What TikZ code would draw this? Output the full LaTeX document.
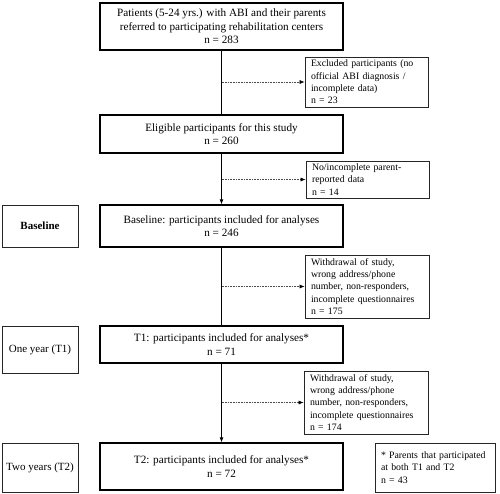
\documentclass[tikz,border=0pt]{standalone}
\usepackage{fontspec}
\setmainfont{Liberation Serif}
\usetikzlibrary{arrows.meta}
\begin{document}
\begin{tikzpicture}[x=1pt,y=-1pt,
  mainbox/.style={draw=black,line width=1.3pt,align=center,inner sep=0pt,
    font=\fontsize{11.2}{13.6}\selectfont},
  sidebox/.style={draw=black!85,line width=0.8pt,align=left,inner xsep=6pt,inner ysep=0pt,
    font=\fontsize{9.8}{12.4}\selectfont},
  labelbox/.style={draw=black!85,line width=0.8pt,align=center,inner sep=0pt,
    minimum width=76pt,font=\fontsize{11}{13.5}\selectfont},
  flow/.style={draw=black,line width=0.8pt},
  flowarrow/.style={flow,-{Latex[length=5pt,width=4pt]}},
  dotarrow/.style={draw=black!70,line width=0.6pt,densely dotted,
    -{Latex[length=5pt,width=4pt,fill=black,color=black]}}
]
\useasboundingbox (0,0) rectangle (500,493);

% main column
\node[mainbox,minimum width=243pt,minimum height=47pt] (top) at (221.5,26.5)
  {Patients (5-24 yrs.) with ABI and their parents\\referred to participating rehabilitation centers\\n = 283};
\node[mainbox,minimum width=243pt,minimum height=38pt] (elig) at (221.5,134)
  {Eligible participants for this study\\n = 260};
\node[mainbox,minimum width=243pt,minimum height=42pt] (base) at (221.5,226)
  {Baseline: participants included for analyses\\n = 246};
\node[mainbox,minimum width=243pt,minimum height=37pt] (tone) at (221.5,344.5)
  {T1: participants included for analyses*\\n = 71};
\node[mainbox,minimum width=243pt,minimum height=47pt] (ttwo) at (221.5,466.5)
  {T2: participants included for analyses*\\n = 72};

% right boxes
\node[sidebox,text width=111pt,minimum height=50pt] (excl) at (366.5,82)
  {Excluded participants (no\\official ABI diagnosis /\\incomplete data)\\n = 23};
\node[sidebox,text width=111pt,minimum height=37pt] (noinc) at (367.5,179.5)
  {No/incomplete parent-\\reported data\\n = 14};
\node[sidebox,text width=112pt,minimum height=63pt] (wone) at (367,286.5)
  {Withdrawal of study,\\wrong address/phone\\number, non-responders,\\incomplete questionnaires\\n = 175};
\node[sidebox,text width=112pt,minimum height=63pt] (wtwo) at (366,402.5)
  {Withdrawal of study,\\wrong address/phone\\number, non-responders,\\incomplete questionnaires\\n = 174};
\node[sidebox,text width=108pt,minimum height=49pt] (foot) at (435,467.5)
  {* Parents that participated\\at both T1 and T2\\n = 43};

% left labels
\node[labelbox,minimum height=42pt,font=\fontsize{11}{13.5}\selectfont\bfseries] (lbase) at (40,226) {Baseline};
\node[labelbox,minimum height=47pt] (lone) at (40,349.5) {One year (T1)};
\node[labelbox,minimum height=49pt] (ltwo) at (40,467.5) {Two years (T2)};

% connectors
\draw[flow] (top.south) -- (elig.north);
\draw[flowarrow] (elig.south) -- (base.north);
\draw[flow] (base.south) -- (tone.north);
\draw[flowarrow] (tone.south) -- (ttwo.north);

\draw[dotarrow] (top.south |- excl.west) -- (excl.west);
\draw[dotarrow] (elig.south |- noinc.west) -- (noinc.west);
\draw[dotarrow] (base.south |- wone.west) -- (wone.west);
\draw[dotarrow] (tone.south |- wtwo.west) -- (wtwo.west);
\end{tikzpicture}
\end{document}
